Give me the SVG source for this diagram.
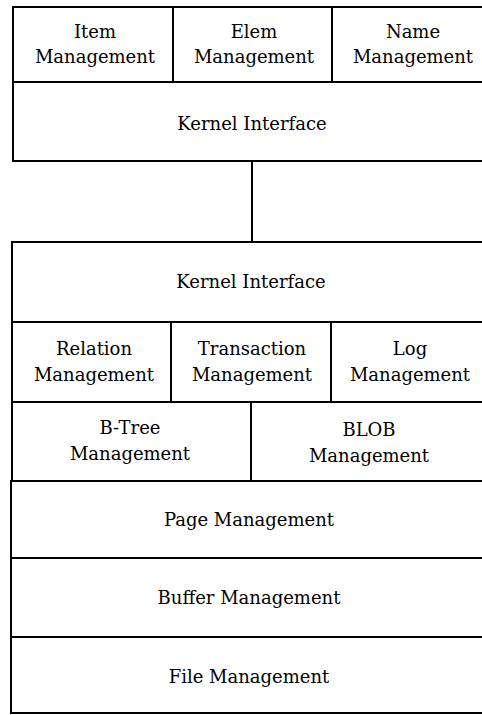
<svg xmlns="http://www.w3.org/2000/svg" width="482" height="715" viewBox="0 0 482 715">
<style>
.box{fill:#fff;stroke:#000;stroke-width:2}
.lbl{font-family:"DejaVu Serif","Liberation Serif",serif;font-size:18px;fill:#000;text-anchor:middle}
.conn{stroke:#000;stroke-width:2;fill:none}
</style>
<rect width="482" height="715" fill="#fff"/>
<g id="connectors">
<line class="conn" x1="252" y1="161" x2="252" y2="242"/>
</g>
<g id="item-management">
<rect class="box" x="13" y="7" width="160" height="75"/>
<text class="lbl" x="95" y="38">Item</text>
<text class="lbl" x="95" y="63">Management</text>
</g>
<g id="elem-management">
<rect class="box" x="173" y="7" width="159" height="75"/>
<text class="lbl" x="254" y="38">Elem</text>
<text class="lbl" x="254" y="63">Management</text>
</g>
<g id="name-management">
<rect class="box" x="332" y="7" width="161" height="75"/>
<text class="lbl" x="413" y="38">Name</text>
<text class="lbl" x="413" y="63">Management</text>
</g>
<g id="kernel-interface-top">
<rect class="box" x="13" y="82" width="480" height="79"/>
<text class="lbl" x="252" y="130">Kernel Interface</text>
</g>
<g id="kernel-interface-bottom">
<rect class="box" x="12" y="242" width="478" height="80"/>
<text class="lbl" x="251" y="288">Kernel Interface</text>
</g>
<g id="relation-management">
<rect class="box" x="12" y="322" width="159" height="80"/>
<text class="lbl" x="94" y="355">Relation</text>
<text class="lbl" x="94" y="381">Management</text>
</g>
<g id="transaction-management">
<rect class="box" x="171" y="322" width="160" height="80"/>
<text class="lbl" x="252" y="355">Transaction</text>
<text class="lbl" x="252" y="381">Management</text>
</g>
<g id="log-management">
<rect class="box" x="331" y="322" width="159" height="80"/>
<text class="lbl" x="410" y="355">Log</text>
<text class="lbl" x="410" y="381">Management</text>
</g>
<g id="btree-management">
<rect class="box" x="12" y="402" width="239" height="79"/>
<text class="lbl" x="130" y="434">B-Tree</text>
<text class="lbl" x="130" y="460">Management</text>
</g>
<g id="blob-management">
<rect class="box" x="251" y="402" width="239" height="79"/>
<text class="lbl" x="369" y="436">BLOB</text>
<text class="lbl" x="369" y="462">Management</text>
</g>
<g id="page-management">
<rect class="box" x="11" y="481" width="479" height="77"/>
<text class="lbl" x="249" y="526">Page Management</text>
</g>
<g id="buffer-management">
<rect class="box" x="11" y="558" width="479" height="79"/>
<text class="lbl" x="249" y="604">Buffer Management</text>
</g>
<g id="file-management">
<rect class="box" x="11" y="637" width="479" height="76"/>
<text class="lbl" x="249" y="683">File Management</text>
</g>
</svg>
